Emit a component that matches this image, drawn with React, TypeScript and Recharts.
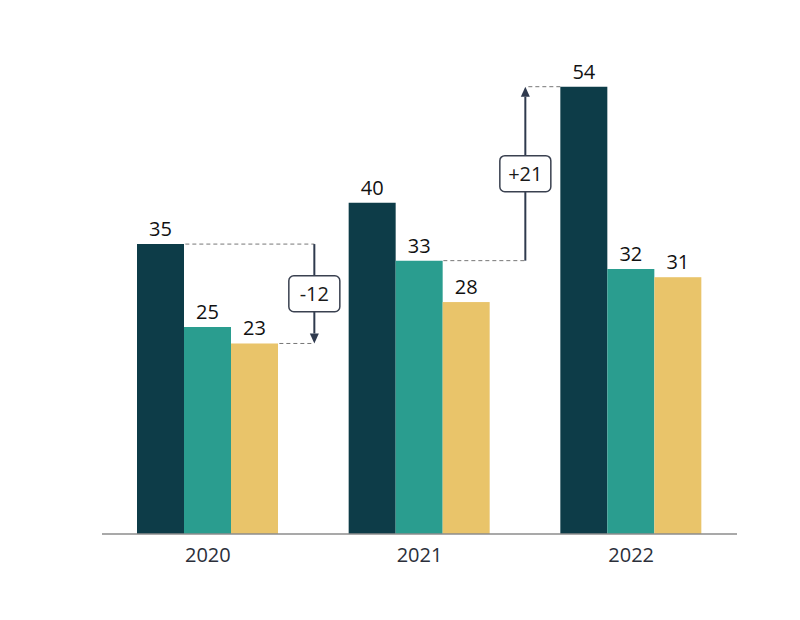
import { Bar, BarChart, LabelList, XAxis, YAxis } from "recharts";

const years = ["2020", "2021", "2022"];
const seriesA = [35, 40, 54];
const seriesB = [25, 33, 32];
const seriesC = [23, 28, 31];
const seriesValues = [seriesA, seriesB, seriesC];
const seriesColors = ["#0d3c48", "#2a9d8f", "#e9c46a"];

// [category index, series index] pairs for the change callouts
const changes = [
  { from: [0, 0], to: [0, 2] },
  { from: [1, 1], to: [2, 0] },
];

const CAT_GAP = 35;
const FONT = "'Open Sans', sans-serif";

const data = years.map((year, i) => ({
  year,
  a: seriesA[i],
  b: seriesB[i],
  c: seriesC[i],
}));

function Callouts({ x, y, width, height, value }: any) {
  const w = width;
  const ppu = height / value;
  const base = y + height;
  const yOf = (v: number) => base - v * ppu;
  const step = 3 * w + 2 * CAT_GAP;
  const last = years.length - 1;
  const groupLeft = (c: number) => x - 2 * w - (last - c) * step;
  const barLeft = (c: number, s: number) => groupLeft(c) + s * w;

  return (
    <g>
      {changes.map((ch, k) => {
        const [fc, fs] = ch.from;
        const [tc, ts] = ch.to;
        const fromV = seriesValues[fs][fc];
        const toV = seriesValues[ts][tc];
        const y1 = yOf(fromV);
        const y2 = yOf(toV);
        const arrowX = groupLeft(fc) + 3 * w + CAT_GAP;
        const fromEdge = barLeft(fc, fs) + w;
        const toLeft = barLeft(tc, ts);
        const toEdge = toLeft > arrowX ? toLeft : toLeft + w;
        const dir = y2 > y1 ? 1 : -1;
        const headLen = 10;
        const diff = toV - fromV;
        const label = (diff > 0 ? "+" : "") + diff;
        const midY = (y1 + y2) / 2;
        const boxW = label.length * 11 + 18;
        const boxH = 36;
        return (
          <g key={k}>
            <line x1={fromEdge} y1={y1} x2={arrowX} y2={y1} stroke="#777" strokeWidth={1} strokeDasharray="4 3" />
            <line x1={toEdge} y1={y2} x2={arrowX} y2={y2} stroke="#777" strokeWidth={1} strokeDasharray="4 3" />
            <line x1={arrowX} y1={y1} x2={arrowX} y2={y2 - dir * headLen} stroke="#2f3a4e" strokeWidth={2} />
            <polygon
              points={`${arrowX - 4.5},${y2 - dir * headLen} ${arrowX + 4.5},${y2 - dir * headLen} ${arrowX},${y2}`}
              fill="#2f3a4e"
            />
            <rect
              x={arrowX - boxW / 2}
              y={midY - boxH / 2}
              width={boxW}
              height={boxH}
              rx={5}
              fill="#fff"
              stroke="#3a4150"
              strokeWidth={1.5}
            />
            <text
              x={arrowX}
              y={midY}
              textAnchor="middle"
              dominantBaseline="central"
              fontFamily={FONT}
              fontSize={20}
              fill="#1a1a1a"
            >
              {label}
            </text>
          </g>
        );
      })}
    </g>
  );
}

function LastBar(props: any) {
  const { x, y, width, height, fill, index } = props;
  return (
    <g>
      <rect x={x} y={y} width={width} height={height} fill={fill} />
      {index === years.length - 1 && <Callouts {...props} />}
    </g>
  );
}

export default function App() {
  return (
    <div style={{ position: "absolute", left: 0, top: 0, width: 800, height: 620, background: "#fff" }}>
      <BarChart
        width={800}
        height={620}
        data={data}
        margin={{ top: 37, right: 63, bottom: 56, left: 102 }}
        barCategoryGap={CAT_GAP}
        barGap={0}
      >
        <XAxis
          dataKey="year"
          height={30}
          axisLine={{ stroke: "#8c8c8c", strokeWidth: 1.5 }}
          tickLine={false}
          tick={{ fill: "#2b2f3a", fontSize: 20, fontFamily: FONT }}
          tickMargin={8}
        />
        <YAxis hide domain={[0, 60]} />
        <Bar dataKey="a" fill={seriesColors[0]} isAnimationActive={false}>
          <LabelList dataKey="a" position="top" offset={8} fill="#111" fontSize={20} fontFamily={FONT} />
        </Bar>
        <Bar dataKey="b" fill={seriesColors[1]} isAnimationActive={false}>
          <LabelList dataKey="b" position="top" offset={8} fill="#111" fontSize={20} fontFamily={FONT} />
        </Bar>
        <Bar dataKey="c" fill={seriesColors[2]} isAnimationActive={false} shape={LastBar}>
          <LabelList dataKey="c" position="top" offset={8} fill="#111" fontSize={20} fontFamily={FONT} />
        </Bar>
      </BarChart>
    </div>
  );
}
